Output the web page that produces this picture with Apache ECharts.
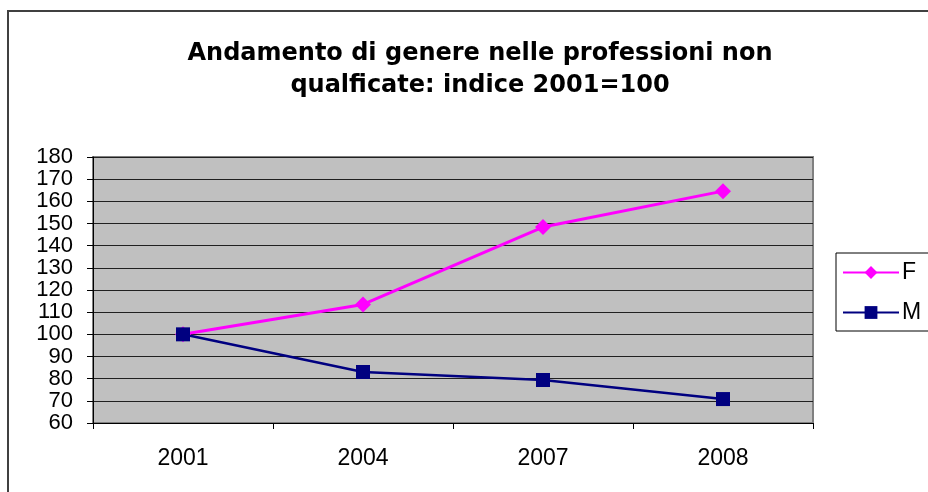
<!DOCTYPE html>
<html>
<head>
<meta charset="utf-8">
<script src="https://cdn.jsdelivr.net/npm/echarts@6/dist/echarts.min.js"></script>
<style>
  html, body { margin: 0; padding: 0; background: #fff; }
  #main { width: 928px; height: 492px; }
</style>
</head>
<body>
<div id="main"></div>
<script>
var years = ['2001', '2004', '2007', '2008'];
var femmine = [100, 113.5, 148.4, 164.6];
var maschi = [100, 83, 79.4, 70.8];
var yMin = 60, yMax = 180, yStep = 10;

var chart = echarts.init(document.getElementById('main'));

var option = {
  backgroundColor: '#fff',
  textStyle: { fontFamily: 'Liberation Sans, Arial, sans-serif' },
  title: {
    text: 'Andamento di genere nelle professioni non\nqualficate: indice 2001=100',
    left: 475,
    textAlign: 'center',
    top: 33,
    textStyle: {
      fontSize: 24,
      fontWeight: 'bold',
      color: '#000',
      lineHeight: 32,
      fontFamily: 'DejaVu Sans, sans-serif'
    }
  },
  graphic: [{
    type: 'rect',
    shape: { x: 8, y: 11, width: 940, height: 500 },
    style: { fill: 'none', stroke: '#404040', lineWidth: 2 },
    z: -1
  }],
  legend: {
    data: ['F', 'M'],
    orient: 'vertical',
    left: 836,
    top: 253,
    itemWidth: 56,
    itemHeight: 16,
    itemGap: 17,
    padding: [8, 20, 7, 6],
    borderColor: '#000',
    borderWidth: 1,
    textStyle: { fontSize: 23, lineHeight: 20, color: '#000', padding: [0, 0, 0, -2] }
  },
  grid: {
    left: 93,
    right: 115,
    top: 157,
    bottom: 69,
    show: true,
    backgroundColor: '#c0c0c0',
    borderColor: '#808080',
    borderWidth: 2
  },
  xAxis: {
    type: 'category',
    data: years,
    boundaryGap: true,
    axisLine: { lineStyle: { color: '#000', width: 1 } },
    axisTick: { show: true, length: 6, inside: false, lineStyle: { color: '#000' } },
    axisLabel: { fontSize: 23, color: '#000', margin: 24 }
  },
  yAxis: {
    type: 'value',
    min: yMin,
    max: yMax,
    interval: yStep,
    axisLine: { show: true, lineStyle: { color: '#000', width: 1 } },
    axisTick: { show: true, length: 6, lineStyle: { color: '#000' } },
    axisLabel: { fontSize: 22, color: '#000', margin: 20 },
    splitLine: { show: true, lineStyle: { color: '#202020', width: 1 } }
  },
  series: [{
    name: 'F',
    type: 'line',
    data: femmine,
    symbol: 'diamond',
    symbolSize: 16,
    color: '#ff00ff',
    lineStyle: { width: 3, color: '#ff00ff' },
    itemStyle: { color: '#ff00ff' }
  }, {
    name: 'M',
    type: 'line',
    data: maschi,
    symbol: 'rect',
    symbolSize: 14,
    color: '#000080',
    lineStyle: { width: 2.5, color: '#000080' },
    itemStyle: { color: '#000080' }
  }]
};
chart.setOption(option);
</script>
</body>
</html>
